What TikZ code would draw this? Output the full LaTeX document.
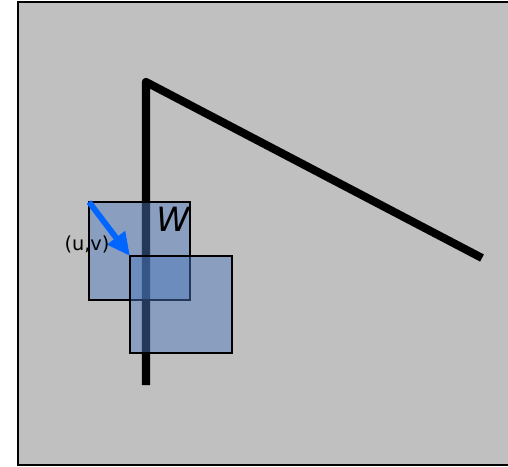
\documentclass[tikz,border=0pt]{standalone}
\usepackage{fontspec}
\setmainfont{DejaVu Sans}
\usetikzlibrary{arrows.meta}
\definecolor{fondgris}{RGB}{192,192,192}
\definecolor{carre}{RGB}{78,120,190}
\definecolor{fleche}{RGB}{0,102,255}
\begin{document}
\begin{tikzpicture}[x=0.02cm,y=-0.02cm,
    fenetre/.style={draw=black, line width=0.85pt, fill=carre, fill opacity=0.47}]

    \useasboundingbox (0,0) rectangle (508,467);

    % Fond gris
    \draw[fill=fondgris, line width=1.1pt] (18,2) rectangle (510,465);

    % Ligne brisee epaisse
    \draw[line width=4.6pt, line join=round] (146,385) -- (146,82) -- (482,258);

    % Coins des deux fenetres
    \coordinate (w1a) at (89,202);
    \coordinate (w1b) at (190,300);
    \coordinate (w2a) at (130,256);
    \coordinate (w2b) at (232,353);

    % Fenetres semi-transparentes
    \draw[fenetre] (w1a) rectangle (w1b);
    \draw[fenetre] (w2a) rectangle (w2b);

    % Deplacement (u,v)
    \draw[fleche, line width=3.3pt, -{Triangle[length=0.46cm,width=0.42cm]}] (w1a) -- (w2a);

    % Etiquettes
    \node (labW) at (173,219) {\fontsize{19}{21}\selectfont\itshape W};
    \node (labUV) at (87,244) {\fontsize{11}{13}\selectfont (u,v)};

\end{tikzpicture}
\end{document}
